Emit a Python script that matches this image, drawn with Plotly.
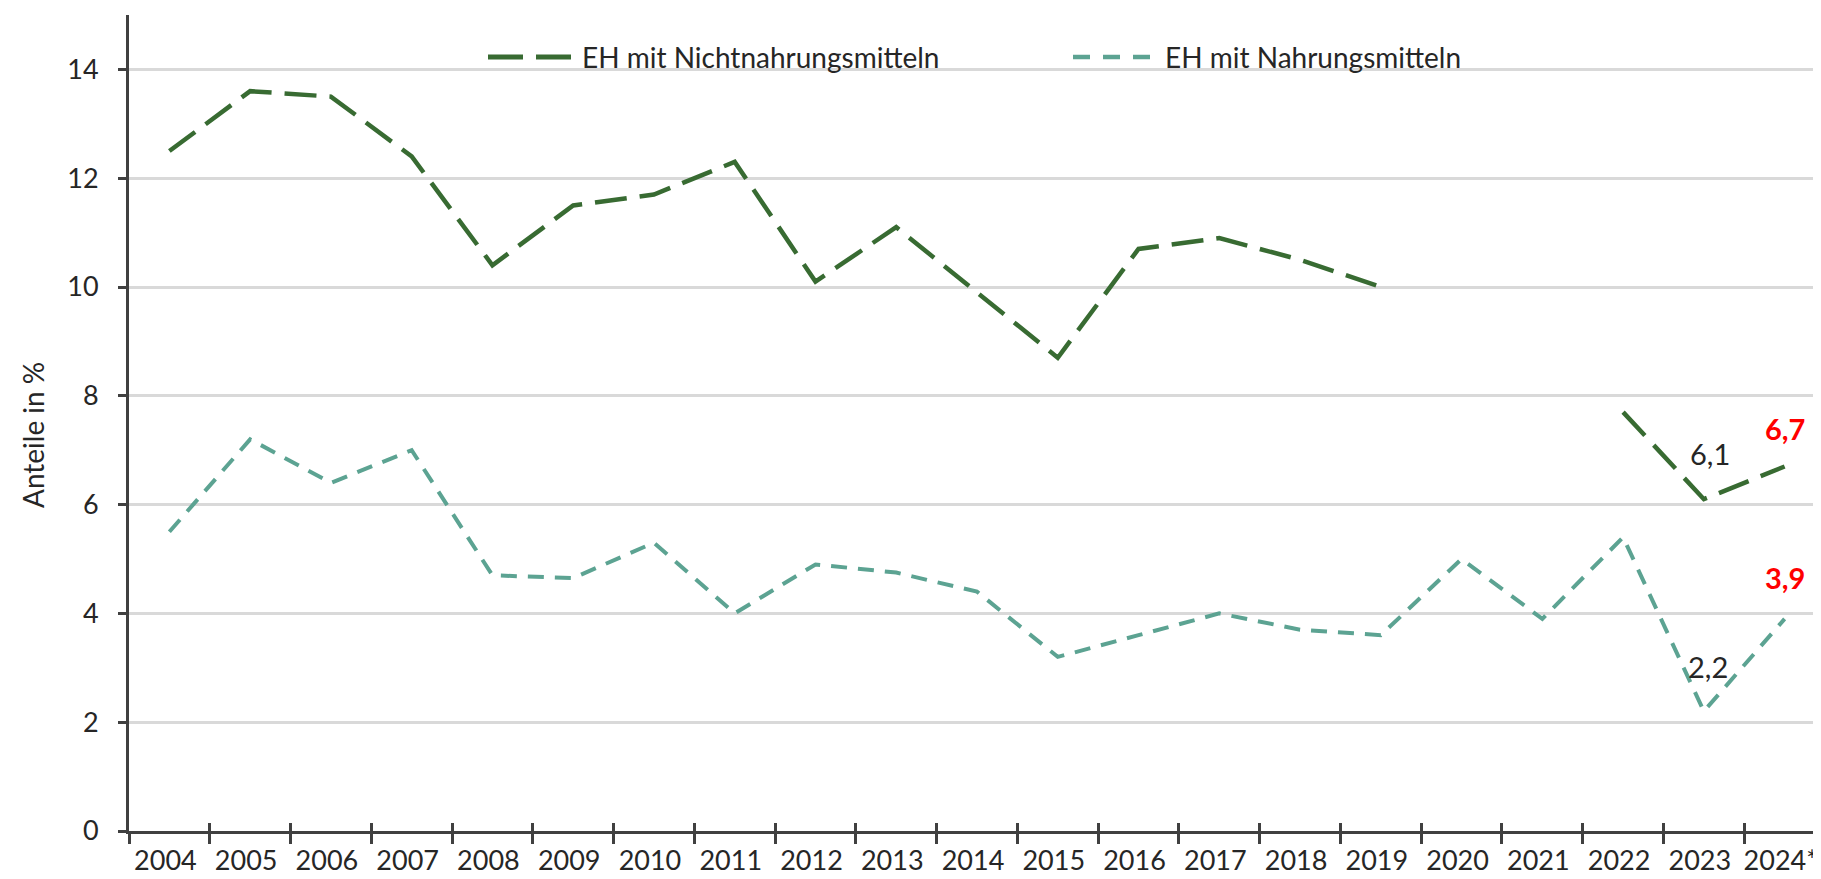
import plotly.graph_objects as go

years = ["2004", "2005", "2006", "2007", "2008", "2009", "2010", "2011", "2012", "2013",
         "2014", "2015", "2016", "2017", "2018", "2019", "2020", "2021", "2022", "2023", "2024*"]
non_food = [12.5, 13.6, 13.5, 12.4, 10.4, 11.5, 11.7, 12.3, 10.1, 11.1,
            9.9, 8.7, 10.7, 10.9, 10.5, 10.0, None, None, 7.7, 6.1, 6.7]
food = [5.5, 7.2, 6.4, 7.0, 4.7, 4.65, 5.3, 4.0, 4.9, 4.75,
        4.4, 3.2, 3.6, 4.0, 3.7, 3.6, 5.0, 3.9, 5.4, 2.2, 3.9]
name_non_food = "EH mit Nichtnahrungsmitteln"
name_food = "EH mit Nahrungsmitteln"
y_ticks = [0, 2, 4, 6, 8, 10, 12, 14]

C_DARK = "#386B32"
C_TEAL = "#5CA392"
C_TEXT = "#262626"
C_AXIS = "#404040"
FONT = "Lato"
DASH_DARK = "32px,13px"
DASH_TEAL = "16px,11px"

W, H = 1821, 879
ML, MR, MT, MB = 121, 4, 7, 56
PW, PH = W - ML - MR, H - MT - MB


def px(xp):
    return (xp - ML) / PW


def py(yp):
    return 1 - (yp - MT) / PH


fig = go.Figure()
fig.add_trace(go.Scatter(x=years, y=non_food, name=name_non_food, mode="lines",
                         connectgaps=False, showlegend=False,
                         line=dict(color=C_DARK, width=4.5, dash=DASH_DARK)))
fig.add_trace(go.Scatter(x=years, y=food, name=name_food, mode="lines",
                         showlegend=False,
                         line=dict(color=C_TEAL, width=4, dash=DASH_TEAL)))
# invisible trace on overlay axis for the upper half of crossing x ticks
fig.add_trace(go.Scatter(x=years, y=[None] * len(years), xaxis="x2", showlegend=False,
                         hoverinfo="skip"))

# value labels
i23 = years.index("2023")
i24 = years.index("2024*")
fig.add_annotation(x=i23, y=non_food[i23], text="6,1", showarrow=False,
                   xshift=6, yshift=46, font=dict(size=29, color=C_TEXT, family=FONT))
fig.add_annotation(x=i23, y=food[i23], text="2,2", showarrow=False,
                   xshift=4, yshift=45, font=dict(size=29, color=C_TEXT, family=FONT))
fig.add_annotation(x=i24, y=non_food[i24], text="<b>6,7</b>", showarrow=False,
                   xshift=0, yshift=38, font=dict(size=29, color="#FF0000", family=FONT))
fig.add_annotation(x=i24, y=food[i24], text="<b>3,9</b>", showarrow=False,
                   xshift=0, yshift=41, font=dict(size=29, color="#FF0000", family=FONT))

# custom legend (long line samples like the original)
fig.add_shape(type="line", xref="paper", yref="paper", x0=px(480), x1=px(563),
              y0=py(49), y1=py(49), line=dict(color=C_DARK, width=5, dash="35px,13px"))
fig.add_annotation(xref="paper", yref="paper", x=px(572), y=py(49), xanchor="left",
                   yanchor="middle", text=name_non_food, showarrow=False,
                   font=dict(size=28, color=C_TEXT, family=FONT))
fig.add_shape(type="line", xref="paper", yref="paper", x0=px(1065), x1=px(1143),
              y0=py(49), y1=py(49), line=dict(color=C_TEAL, width=4.5, dash="17px,13px"))
fig.add_annotation(xref="paper", yref="paper", x=px(1155), y=py(49), xanchor="left",
                   yanchor="middle", text=name_food, showarrow=False,
                   font=dict(size=28, color=C_TEXT, family=FONT))

# y-axis title
fig.add_annotation(xref="paper", yref="paper", x=px(25), y=py(427), xanchor="center",
                   yanchor="middle", text="Anteile in %", textangle=-90, showarrow=False,
                   font=dict(size=28, color=C_TEXT, family=FONT))

fig.update_layout(
    width=W, height=H,
    margin=dict(l=ML, r=MR, t=MT, b=MB),
    paper_bgcolor="white", plot_bgcolor="white",
    font=dict(family=FONT, size=28, color=C_TEXT),
    showlegend=False,
    xaxis=dict(type="category", range=[-0.5, 20.5], tickson="boundaries",
               ticks="outside", ticklen=10, tickwidth=3, tickcolor=C_AXIS,
               showline=True, linecolor=C_AXIS, linewidth=3,
               showgrid=False, ticklabelstandoff=4, tickangle=0,
               ticklabeloverflow="allow", ticklabelshift=-4,
               tickfont=dict(size=27, color=C_TEXT, family=FONT)),
    xaxis2=dict(type="category", range=[-0.5, 20.5], overlaying="x", side="bottom",
                tickson="boundaries", ticks="inside", ticklen=8, tickwidth=3,
                tickcolor=C_AXIS, showticklabels=False, showgrid=False,
                showline=False, anchor="y"),
    yaxis=dict(range=[0, 15], tickvals=y_ticks, ticks="outside", ticklen=8,
               tickwidth=3, tickcolor=C_AXIS, showline=True, linecolor=C_AXIS,
               linewidth=3, showgrid=True, gridcolor="#D9D9D9", gridwidth=2.5,
               zeroline=False, ticklabelstandoff=14,
               tickfont=dict(size=27, color=C_TEXT, family=FONT)),
)

fig.write_html("out.html")
